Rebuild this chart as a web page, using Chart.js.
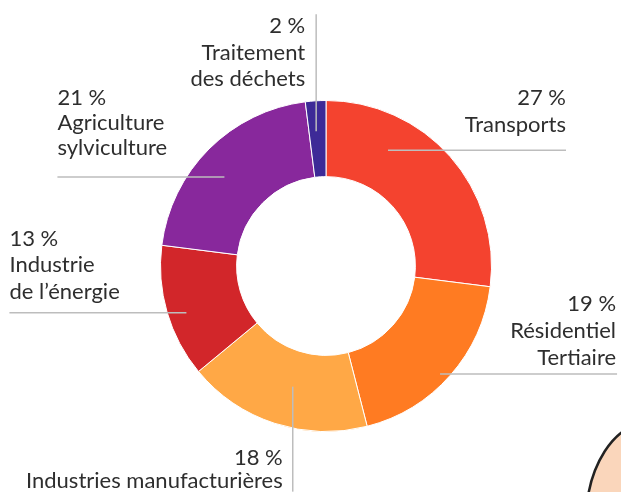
<!DOCTYPE html>
<html>
<head>
<meta charset="utf-8">
<script src="https://cdn.jsdelivr.net/npm/chart.js@4/dist/chart.umd.min.js"></script>
<style>
  html, body { margin: 0; padding: 0; background: #fff; }
  #wrap { width: 621px; height: 492px; position: relative; }
</style>
</head>
<body>
<div id="wrap"><canvas id="emissionsChart"></canvas></div>
<script>
const categories = ['Transports', 'Résidentiel Tertiaire', 'Industries manufacturières', 'Industrie de l’énergie', 'Agriculture sylviculture', 'Traitement des déchets'];
const labelLines = [['Transports'], ['Résidentiel', 'Tertiaire'], ['Industries manufacturières'], ['Industrie', 'de l’énergie'], ['Agriculture', 'sylviculture'], ['Traitement', 'des déchets']];
const shares = [27, 19, 18, 13, 21, 2];
const colors = ['#F4432F', '#FF7B22', '#FFA846', '#D2262A', '#88289C', '#3D2A97'];

// leader line layout: where it starts inside the slice, which way it goes, where the text sits
const callouts = [
    { frac: 0.29, rad: 0.55, dir: 'h', len: 178, align: 'right', dx: 0, dy: -45, lh: 27 },
    { frac: 0.53, rad: 0.89, dir: 'h', len: 177, align: 'right', dx: -1, dy: -63, lh: 27 },
    { frac: 0.46, rad: 0.47, dir: 'v', len: 105, align: 'right', dx: -10, dy: -27, lh: 23 },
    { frac: 0.45, rad: 0.76, dir: 'h', len: -177, align: 'left', dx: 0, dy: -67, lh: 26.5 },
    { frac: 0.45, rad: 0.60, dir: 'h', len: -167, align: 'left', dx: 0, dy: -72, lh: 25 },
    { frac: 0.42, rad: 0.60, dir: 'v', len: -117, align: 'right', dx: -11, dy: 19, lh: 26.5 }
];

const calloutPlugin = {
    id: 'callouts',
    beforeDraw(chart) {
        // bit of the cartoon character peeking in the corner
        const ctx = chart.ctx;
        ctx.save();
        ctx.beginPath();
        ctx.ellipse(650, 522, 64, 100, 0, 0, Math.PI * 2);
        ctx.fillStyle = '#FAD6BB';
        ctx.fill();
        ctx.lineWidth = 2.5;
        ctx.strokeStyle = '#222';
        ctx.stroke();
        ctx.restore();
    },
    afterDatasetsDraw(chart) {
        const ctx = chart.ctx;
        const arcs = chart.getDatasetMeta(0).data;
        ctx.save();
        arcs.forEach((arc, i) => {
            const c = callouts[i];
            const p = arc.getProps(['x', 'y', 'startAngle', 'endAngle', 'innerRadius', 'outerRadius'], true);
            const a = p.startAngle + c.frac * (p.endAngle - p.startAngle);
            const r = p.innerRadius + c.rad * (p.outerRadius - p.innerRadius);
            const x0 = p.x + r * Math.cos(a);
            const y0 = p.y + r * Math.sin(a);
            const x1 = c.dir === 'h' ? x0 + c.len : x0;
            const y1 = c.dir === 'v' ? y0 + c.len : y0;

            ctx.beginPath();
            ctx.moveTo(x0, y0);
            ctx.lineTo(x1, y1);
            ctx.strokeStyle = '#BDBDBD';
            ctx.lineWidth = 1.5;
            ctx.stroke();

            const lines = [shares[i] + ' %'].concat(labelLines[i]);
            ctx.fillStyle = '#2E2E2E';
            ctx.font = '22px Lato';
            ctx.textAlign = c.align;
            ctx.textBaseline = 'alphabetic';
            lines.forEach((t, k) => {
                ctx.fillText(t, x1 + c.dx, y1 + c.dy + k * c.lh);
            });
        });
        ctx.restore();
    }
};

const ctx = document.getElementById('emissionsChart').getContext('2d');
const emissionsChart = new Chart(ctx, {
    type: 'doughnut',
    data: {
        labels: categories,
        datasets: [{
            data: shares,
            backgroundColor: colors,
            borderColor: '#ffffff',
            borderWidth: 1
        }]
    },
    options: {
        responsive: true,
        maintainAspectRatio: false,
        animation: false,
        cutout: '54%',
        layout: {
            padding: { top: 100, bottom: 60, left: 160, right: 129 }
        },
        plugins: {
            legend: { display: false },
            tooltip: { enabled: false }
        }
    },
    plugins: [calloutPlugin]
});
</script>
</body>
</html>
